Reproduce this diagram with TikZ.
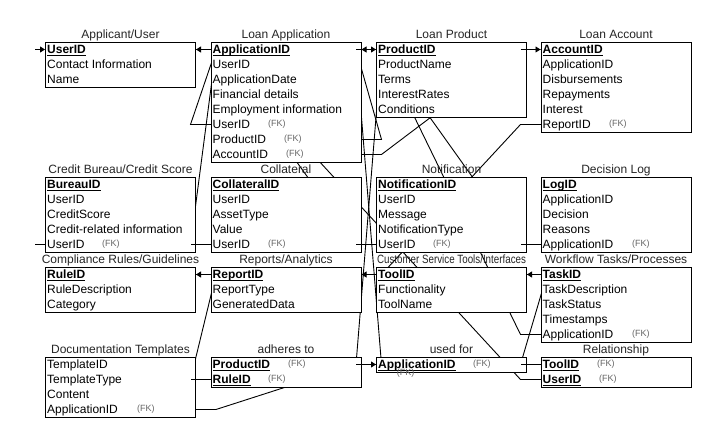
\documentclass[tikz,border=0pt]{standalone}
\usepackage{fontspec}
\usepackage{graphicx}
\setmainfont{Liberation Sans}
\usetikzlibrary{calc,arrows.meta}
\pgfdeclarelayer{backdrop}
\pgfdeclarelayer{bg}
\pgfdeclarelayer{fg}
\pgfsetlayers{backdrop,bg,main,fg}
\newsavebox\kbox
\newcommand\keyu[1]{\sbox\kbox{\bfseries #1}\rlap{\rule[-1.6pt]{\wd\kbox}{0.8pt}}\usebox\kbox}
\newcommand\tablerows[2]{%
  \foreach \t [count=\i] in {#2} {%
    \node[rowtxt] (#1\i) at ($(#1.north west)+(2,7.5+15*\i-15)$) {\t};%
  }%
}
\tikzset{
  tbl/.style={draw=black, line width=1pt, fill=white, anchor=north west, inner sep=0pt, minimum width=150pt},
  rowtxt/.style={anchor=west, inner sep=0pt, text height=11pt, text depth=2.4pt, font=\fontsize{12}{14}\selectfont, text=black},
  ttl/.style={anchor=base, inner sep=0pt, font=\fontsize{12}{14}\selectfont, text=black!85},
  fk/.style={anchor=west, inner sep=0pt, font=\fontsize{9}{10}\selectfont, text=black!60},
  conn/.style={draw=black, line width=0.9pt},
  tip/.style={-{Triangle[length=5pt,width=6pt]}},
}
\begin{document}
\begin{tikzpicture}[x=1pt,y=-1pt]
\begin{pgfonlayer}{backdrop}
\fill[white] (0,0) rectangle (716,443);
\end{pgfonlayer}
\path[use as bounding box] (0,0) rectangle (716,443);

% ---------- row 1 ----------
\node[tbl, minimum height=45pt] (app) at (45,42) {};
\node[ttl] (appT) at ($(app.north)+(0,-3)$) {Applicant/User};
\tablerows{app}{{\keyu{UserID}},Contact Information,Name}

\node[tbl, minimum height=120pt] (la) at (210.5,42) {};
\node[ttl] (laT) at ($(la.north)+(0,-3)$) {Loan Application};
\tablerows{la}{{\keyu{ApplicationID}},UserID,ApplicationDate,Financial details,Employment information,UserID,ProductID,AccountID}
\node[fk] (laF6) at ($(la.west|-la6)+(57.5,0)$) {(FK)};
\node[fk] (laF7) at ($(la.west|-la7)+(73.5,0)$) {(FK)};
\node[fk] (laF8) at ($(la.west|-la8)+(75.5,0)$) {(FK)};

\node[tbl, minimum height=75pt] (lp) at (376,42) {};
\node[ttl] (lpT) at ($(lp.north)+(0,-3)$) {Loan Product};
\tablerows{lp}{{\keyu{ProductID}},ProductName,Terms,InterestRates,Conditions}

\node[tbl, minimum height=90pt] (lac) at (540.5,42) {};
\node[ttl] (lacT) at ($(lac.north)+(0,-3)$) {Loan Account};
\tablerows{lac}{{\keyu{AccountID}},ApplicationID,Disbursements,Repayments,Interest,ReportID}
\node[fk] (lacF6) at ($(lac.west|-lac6)+(68.5,0)$) {(FK)};

% ---------- row 2 ----------
\node[tbl, minimum height=75pt] (cb) at (45,177) {};
\node[ttl] (cbT) at ($(cb.north)+(0,-3)$) {Credit Bureau/Credit Score};
\tablerows{cb}{{\keyu{BureauID}},UserID,CreditScore,Credit-related information,UserID}
\node[fk] (cbF5) at ($(cb.west|-cb5)+(57,0)$) {(FK)};

\node[tbl, minimum height=75pt] (col) at (210.5,177) {};
\node[ttl] (colT) at ($(col.north)+(0,-3)$) {Collateral};
\tablerows{col}{{\keyu{CollateralID}},UserID,AssetType,Value,UserID}
\node[fk] (colF5) at ($(col.west|-col5)+(57.5,0)$) {(FK)};

\node[tbl, minimum height=75pt] (nt) at (376,177) {};
\node[ttl] (ntT) at ($(nt.north)+(0,-3)$) {Notification};
\tablerows{nt}{{\keyu{NotificationID}},UserID,Message,NotificationType,UserID}
\node[fk] (ntF5) at ($(nt.west|-nt5)+(57,0)$) {(FK)};

\node[tbl, minimum height=75pt] (dl) at (540.5,177) {};
\node[ttl] (dlT) at ($(dl.north)+(0,-3)$) {Decision Log};
\tablerows{dl}{{\keyu{LogID}},ApplicationID,Decision,Reasons,ApplicationID}
\node[fk] (dlF5) at ($(dl.west|-dl5)+(91.5,0)$) {(FK)};

% ---------- row 3 ----------
\node[tbl, minimum height=45pt] (cr) at (45,267) {};
\node[ttl] (crT) at ($(cr.north)+(0,-3)$) {Compliance Rules/Guidelines};
\tablerows{cr}{{\keyu{RuleID}},RuleDescription,Category}

\node[tbl, minimum height=45pt] (ra) at (210.5,267) {};
\node[ttl] (raT) at ($(ra.north)+(0,-3)$) {Reports/Analytics};
\tablerows{ra}{{\keyu{ReportID}},ReportType,GeneratedData}

\node[tbl, minimum height=45pt] (cs) at (376,267) {};
\node[ttl] (csT) at ($(cs.north)+(0,-3)$) {\resizebox{149pt}{\height}{Customer Service Tools/Interfaces}};
\tablerows{cs}{{\keyu{ToolID}},Functionality,ToolName}

\node[tbl, minimum height=75pt] (wf) at (540.5,267) {};
\node[ttl] (wfT) at ($(wf.north)+(0,-3)$) {Workflow Tasks/Processes};
\tablerows{wf}{{\keyu{TaskID}},TaskDescription,TaskStatus,Timestamps,ApplicationID}
\node[fk] (wfF5) at ($(wf.west|-wf5)+(91.5,0)$) {(FK)};

% ---------- row 4 ----------
\node[tbl, minimum height=60pt] (dt) at (45,357) {};
\node[ttl] (dtT) at ($(dt.north)+(0,-3)$) {Documentation Templates};
\tablerows{dt}{TemplateID,TemplateType,Content,ApplicationID}
\node[fk] (dtF4) at ($(dt.west|-dt4)+(92,0)$) {(FK)};

\node[tbl, minimum height=30pt] (ad) at (210.5,357) {};
\node[ttl] (adT) at ($(ad.north)+(0,-3)$) {adheres to};
\tablerows{ad}{{\keyu{ProductID}},{\keyu{RuleID}}}
\node[fk] (adF1) at ($(ad.west|-ad1)+(77.5,0)$) {(FK)};
\node[fk] (adF2) at ($(ad.west|-ad2)+(57.5,0)$) {(FK)};

\node[tbl, minimum height=15pt] (uf) at (376,357) {};
\node[ttl] (ufT) at ($(uf.north)+(0,-3)$) {used for};
\tablerows{uf}{{\keyu{ApplicationID}}}
\node[fk] (ufF1) at ($(uf.west|-uf1)+(97,0)$) {(FK)};

\node[tbl, minimum height=30pt] (rel) at (540.5,357) {};
\node[ttl] (relT) at ($(rel.north)+(0,-3)$) {Relationship};
\tablerows{rel}{{\keyu{ToolID}},{\keyu{UserID}}}
\node[fk] (relF1) at ($(rel.west|-rel1)+(56.5,0)$) {(FK)};
\node[fk] (relF2) at ($(rel.west|-rel2)+(58.5,0)$) {(FK)};

\coordinate (freeA) at ($(app.west|-app1)+(-10,0)$);
\coordinate (freeB) at ($(cb.west|-cb5)+(-10,0)$);

% ---------- connectors (behind the tables) ----------
\begin{pgfonlayer}{bg}
\draw[conn] (la.west|-la6) -- ++(-20,0) -- ($(app.east|-app1)+(20,0)$) -- (app.east|-app1);
\draw[conn] (col.west|-col5) -- ++(-20,0) -- ($(app.east|-app1)+(20,0)$);
\draw[conn] (rel.west|-rel2) -- ++(-20,0) -- ($(app.east|-app1)+(20,0)$);
\draw[conn] (nt.west|-nt5) -- ++(-20,0) -- ($(app.east|-app1)+(20,0)$);
\draw[conn] (la.east|-la7) -- ++(20,0) -- ($(lp.west|-lp1)+(-20,0)$) -- (lp.west|-lp1);
\draw[conn] (ad.east|-ad1) -- ++(20,0) -- ($(lp.west|-lp1)+(-20,0)$);
\draw[conn] (la.east|-la8) -- ++(20,0) -- ($(lac.west|-lac1)+(-20,0)$) -- (lac.west|-lac1);
\draw[conn] (wf.west|-wf5) -- ++(-20,0) -- ($(la.east|-la1)+(20,0)$) -- (la.east|-la1);
\draw[conn] (dl.west|-dl5) -- ++(-20,0) -- ($(la.east|-la1)+(20,0)$);
\draw[conn] (la.east|-la1) -- ++(20,0) -- ($(uf.west|-uf1)+(-20,0)$) -- (uf.west|-uf1);
\draw[conn] (dt.east|-dt4) -- ++(20,0) -- ($(uf.west|-uf1)+(-20,0)$);
\draw[conn] (lac.west|-lac6) -- ++(-20,0) -- ($(ra.east|-ra1)+(20,0)$) -- (ra.east|-ra1);
\draw[conn] (ad.west|-ad2) -- ++(-20,0) -- ($(cr.east|-cr1)+(20,0)$) -- (cr.east|-cr1);
\draw[conn] (rel.west|-rel1) -- ++(-20,0) -- ($(cs.east|-cs1)+(20,0)$) -- (cs.east|-cs1);
\end{pgfonlayer}

% ---------- visible end stubs and arrowheads ----------
\begin{pgfonlayer}{fg}
\draw[conn] (la.west|-la6) -- ++(-20,0);
\draw[conn] (col.west|-col5) -- ++(-20,0);
\draw[conn] (rel.west|-rel2) -- ++(-20,0);
\draw[conn] (nt.west|-nt5) -- ++(-20,0);
\draw[conn,tip] (la.west|-app1) -- (app.east|-app1);
\draw[conn] (la.east|-la7) -- ++(20,0);
\draw[conn] (ad.east|-ad1) -- (uf.west|-ad1);
\draw[conn,tip] ($(lp.west|-lp1)+(-20,0)$) -- (lp.west|-lp1);
\draw[conn] (la.east|-la8) -- ++(20,0);
\draw[conn,tip] ($(lac.west|-lac1)+(-20,0)$) -- (lac.west|-lac1);
\draw[conn] (wf.west|-wf5) -- ++(-20,0);
\draw[conn] (dl.west|-dl5) -- ++(-20,0);
\draw[conn,tip] (lp.west|-la1) -- (la.east|-la1);
\draw[conn] (dt.east|-dt4) -- ++(20,0);
\draw[conn,tip] ($(uf.west|-uf1)+(-20,0)$) -- (uf.west|-uf1);
\draw[conn] (lac.west|-lac6) -- ++(-20,0);
\draw[conn,tip] (cs.west|-ra1) -- (ra.east|-ra1);
\draw[conn] (ad.west|-ad2) -- ++(-20,0);
\draw[conn,tip] (ra.west|-cr1) -- (cr.east|-cr1);
\draw[conn] (rel.west|-rel1) -- ++(-20,0);
\draw[conn,tip] (wf.west|-cs1) -- (cs.east|-cs1);
\draw[conn,tip] (freeA) -- (app.west|-app1);
\draw[conn] (cb.west|-cb5) -- (freeB);
\node[fk] (ufStray) at ($(uf.south west)+(20.7,0)$) {(FK)};
\end{pgfonlayer}
\end{tikzpicture}
\end{document}
